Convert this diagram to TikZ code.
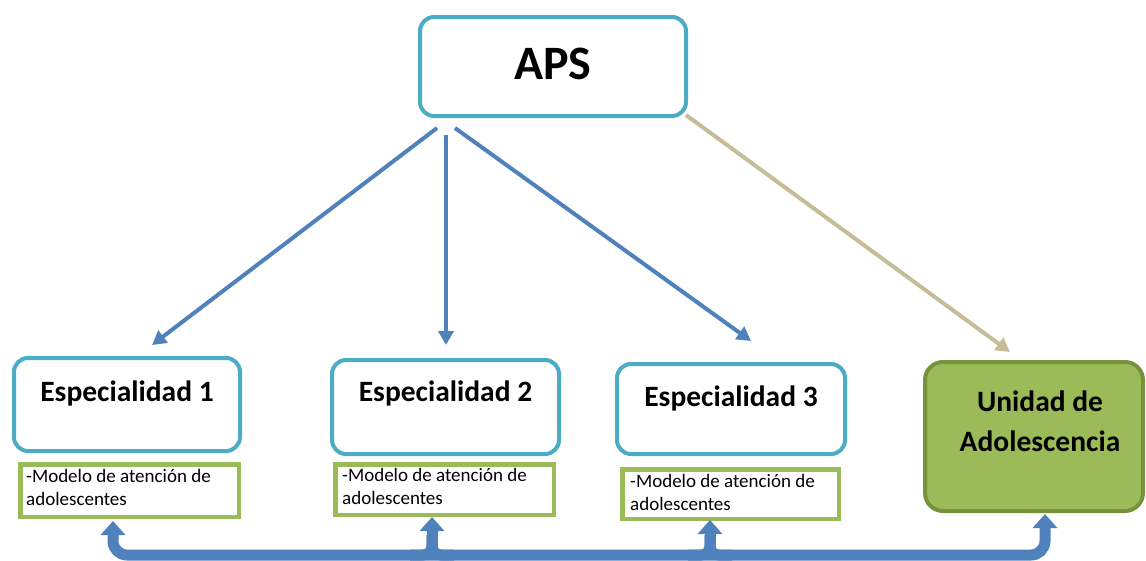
\documentclass[tikz,border=0pt]{standalone}
\usepackage{fontspec}
\setmainfont{Carlito}
\usetikzlibrary{arrows.meta}
\definecolor{aqua}{HTML}{4BACC6}
\definecolor{arrowblue}{HTML}{4F81BD}
\definecolor{lightgreen}{HTML}{9BBB59}
\definecolor{darkgreen}{HTML}{76923C}
\definecolor{tan}{HTML}{C4BD97}
\tikzset{
  mainbox/.style={draw=aqua, line width=4pt, rounded corners=14pt, fill=white},
  unitbox/.style={draw=darkgreen, line width=4pt, rounded corners=18pt, fill=lightgreen},
  notebox/.style={draw=lightgreen, line width=4.5pt, fill=white},
  bigtext/.style={font=\fontsize{29.5}{34}\selectfont\bfseries},
  notetext/.style={font=\fontsize{19}{23}\selectfont, align=left, anchor=north west, inner sep=0pt},
  thinarrow/.style={draw=arrowblue, line width=4pt, -{Triangle[length=14pt,width=15pt]}},
  tanarrow/.style={draw=tan, line width=4pt, -{Triangle[length=14pt,width=15pt]}},
  bigarrow/.style={draw=arrowblue, line width=11pt},
  bighead/.style={{Triangle[length=14pt,width=24pt]}-{Triangle[length=14pt,width=24pt]}},
  onehead/.style={-{Triangle[length=14pt,width=24pt]}}
}
\begin{document}
\begin{tikzpicture}[x=1pt,y=-1pt]
\useasboundingbox (0,0) rectangle (1146,560);

% main boxes
\node[mainbox, minimum width=266pt, minimum height=99pt] (aps) at (553,66.5) {};
\node[font=\fontsize{48}{54}\selectfont\bfseries] (apst) at (553,64) {APS};

\node[mainbox, minimum width=226pt, minimum height=93pt] (e1) at (127,404.5) {};
\node[bigtext] (e1t) at (127,393) {Especialidad 1};
\node[mainbox, minimum width=227pt, minimum height=94pt] (e2) at (445.5,407) {};
\node[bigtext] (e2t) at (445.5,393) {Especialidad 2};
\node[mainbox, minimum width=228pt, minimum height=90pt] (e3) at (731,409) {};
\node[bigtext] (e3t) at (731,398) {Especialidad 3};

\node[unitbox, minimum width=218pt, minimum height=149pt] (u) at (1034,436.5) {};
\node[align=center, font=\fontsize{29.5}{40}\selectfont\bfseries] (ut) at (1040,421) {Unidad de\\Adolescencia};

% note boxes
\node[notebox, minimum width=218.5pt, minimum height=52.5pt] (g1) at (129.5,490.5) {};
\node[notetext] (g1t) at (26,469) {-Modelo de atención de\\adolescentes};
\node[notebox, minimum width=218.5pt, minimum height=50.5pt] (g2) at (444.5,489.5) {};
\node[notetext] (g2t) at (342,468) {-Modelo de atención de\\adolescentes};
\node[notebox, minimum width=216.5pt, minimum height=49.5pt] (g3) at (730.5,494) {};
\node[notetext] (g3t) at (630,474) {-Modelo de atención de\\adolescentes};

% arrows from APS
\coordinate (s1) at (437,128);
\coordinate (t1) at (152,345);
\coordinate (s2) at (446,135);
\coordinate (t2) at (446,345);
\coordinate (s3) at (455,128);
\coordinate (t3) at (751,341);
\coordinate (s4) at (686,115);
\coordinate (t4) at (1010,352);
\draw[thinarrow] (s1) -- (t1);
\draw[thinarrow] (s2) -- (t2);
\draw[thinarrow] (s3) -- (t3);
\draw[tanarrow] (s4) -- (t4);

% bottom connector
\coordinate (r1) at (113,521);
\coordinate (r2) at (432,517);
\coordinate (r3) at (710,520);
\coordinate (r4) at (1045,514);
\coordinate (b1) at (113,555);
\coordinate (b2) at (432,555);
\coordinate (b3) at (710,555);
\coordinate (b4) at (1045,555);
\coordinate (m2) at (432,535);
\coordinate (m3) at (710,535);
\draw[bigarrow, bighead, rounded corners=14pt] (r1) -- (b1) -- (b4) -- (r4);
\draw[bigarrow, rounded corners=9pt] ([xshift=-22pt]b2) -| (m2);
\draw[bigarrow, rounded corners=9pt] ([xshift=22pt]b2) -| (m2);
\draw[bigarrow, rounded corners=9pt] ([xshift=-22pt]b3) -| (m3);
\draw[bigarrow, rounded corners=9pt] ([xshift=22pt]b3) -| (m3);
\draw[bigarrow, onehead] (b2) -- (r2);
\draw[bigarrow, onehead] (b3) -- (r3);
\end{tikzpicture}
\end{document}
